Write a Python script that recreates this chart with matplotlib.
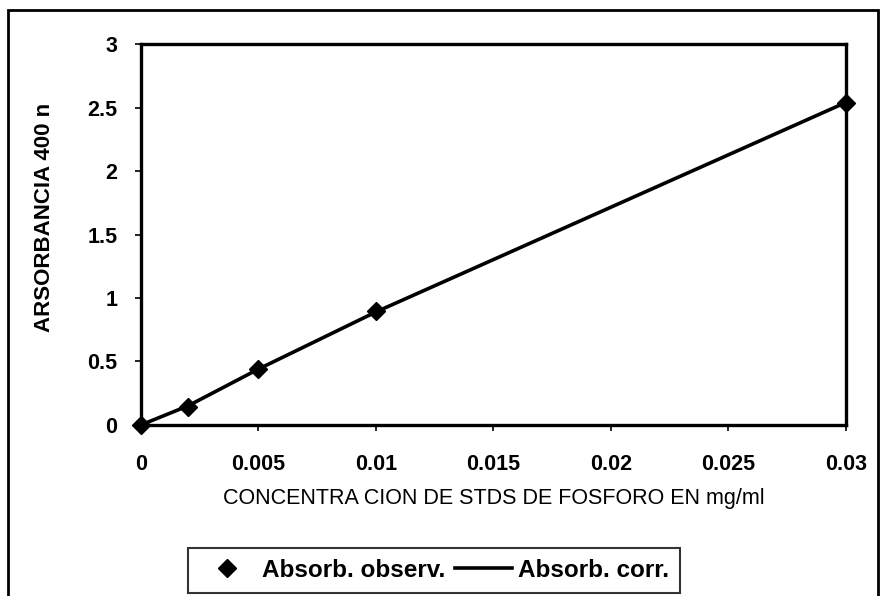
import matplotlib
matplotlib.use('Agg')
import matplotlib.pyplot as plt
from matplotlib.patches import Rectangle

plt.rcParams['font.family'] = ['Liberation Sans', 'DejaVu Sans']

# datos de los estandares
conc = [0, 0.002, 0.005, 0.01, 0.03]
absorb_obs = [0, 0.14, 0.44, 0.9, 2.54]
absorb_corr = [0, 0.15, 0.44, 0.89, 2.54]

xticks = [0, 0.005, 0.01, 0.015, 0.02, 0.025, 0.03]
xtick_labels = ['0', '0.005', '0.01', '0.015', '0.02', '0.025', '0.03']
yticks = [0, 0.5, 1, 1.5, 2, 2.5, 3]
ytick_labels = ['0', '0.5', '1', '1.5', '2', '2.5', '3']

fig = plt.figure(figsize=(8.81, 5.96), dpi=100)
ax = fig.add_axes([0.160, 0.287, 0.800, 0.639])

ax.plot(conc, absorb_obs, linestyle='none', marker='D', color='black',
        markersize=9.5, label='Absorb. observ.', clip_on=False, zorder=3)
ax.plot(conc, absorb_corr, color='black', lw=2.6, label='Absorb. corr.',
        clip_on=False, zorder=2)

ax.set_xlim(0, 0.03)
ax.set_ylim(0, 3)
ax.set_xticks(xticks)
ax.set_xticklabels(xtick_labels)
ax.set_yticks(yticks)
ax.set_yticklabels(ytick_labels)
ax.tick_params(direction='out', length=4, width=1.2, labelsize=15.5)
ax.tick_params(axis='x', pad=17)
ax.tick_params(axis='y', pad=13)
for lab in ax.get_xticklabels() + ax.get_yticklabels():
    lab.set_fontweight('bold')
for s in ax.spines.values():
    s.set_linewidth(2.4)

fig.text(0.561, 0.164, 'CONCENTRA CION DE STDS DE FOSFORO EN mg/ml',
         ha='center', va='center', fontsize=15.5)
fig.text(0.051, 0.635, 'ARSORBANCIA 400 n', rotation=90,
         ha='center', va='center', fontsize=16, fontweight='bold')

leg = fig.legend(loc='center', bbox_to_anchor=(0.4926, 0.043), ncol=2,
                 frameon=True, fancybox=False, edgecolor='black',
                 prop={'size': 17.5, 'weight': 'bold'}, handlelength=2.35,
                 columnspacing=0.4, handletextpad=0.25, borderpad=0.45,
                 borderaxespad=0)
leg.get_frame().set_linewidth(1.5)

# marco exterior
fig.patches.append(Rectangle((0.009, -0.01), 0.988, 0.993, transform=fig.transFigure,
                             fill=False, edgecolor='black', lw=2))

fig.savefig('out.png', dpi=100)
